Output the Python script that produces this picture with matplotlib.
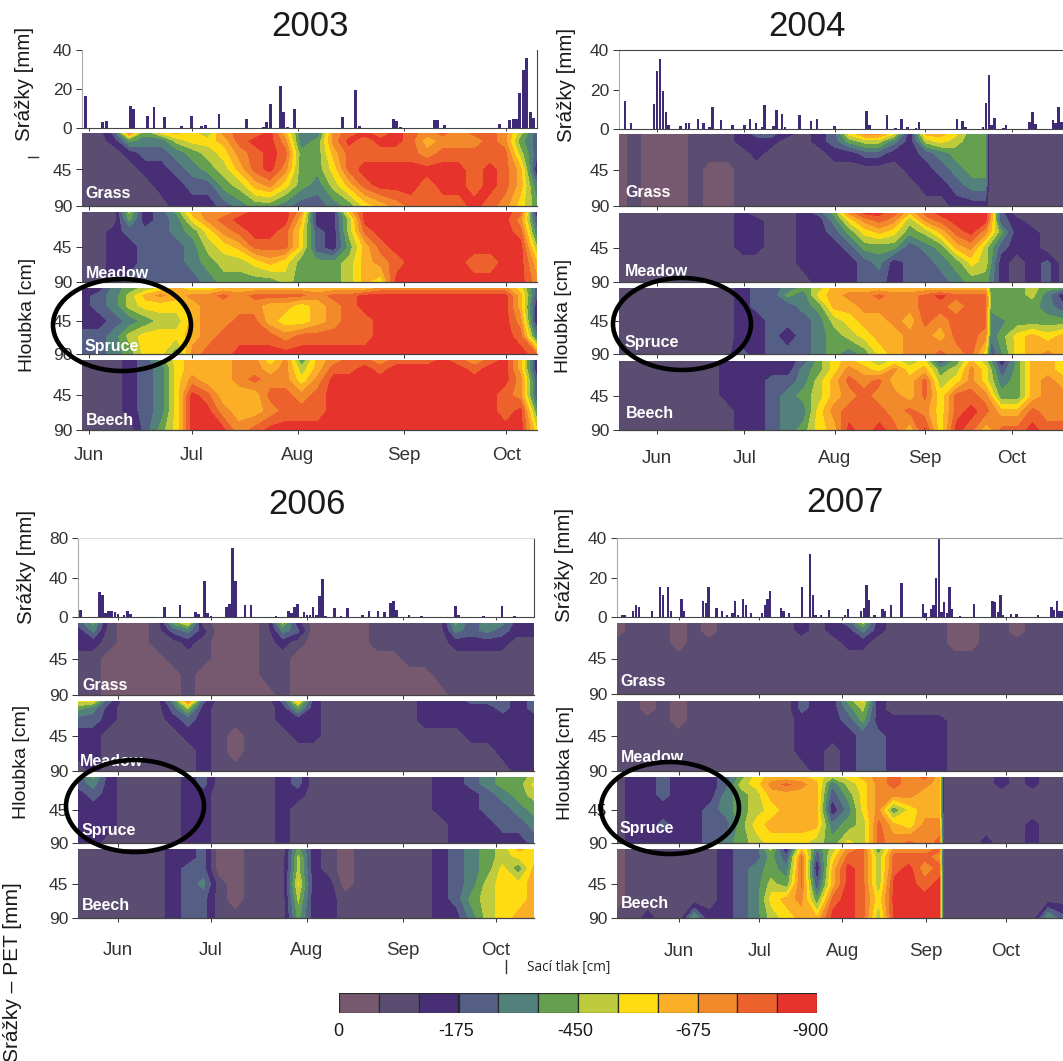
import matplotlib
matplotlib.use("Agg")
import matplotlib.pyplot as plt
import numpy as np
from matplotlib.patches import Ellipse

W, H = 1063, 1061
plt.rcParams["font.family"] = ["Liberation Sans", "DejaVu Sans"]

# hloubka [cm] radku v tabulkach
hloubky = [0, 10, 25, 45, 65, 90]
# kazdy znak = trida saciho tlaku 0-b (hex), 1 trida = 75 cm
grass_2003 = ["113a5 78769 aab84 49aba ba9a9 aa963", "11254 46778 abb94 59bab ba899 9a953", "11123 34567 9aba5 58aaa aa9aa aaa63",
              "11112 23456 8ab95 57abb bbbbb aba82", "11111 22335 68975 468ab bbabb aba84", "11111 12223 45543 34578 9aaaa ba975"]
meadow_2003 = ["11162 35899 abbb9 228bb bbbbb bbba2", "11152 3479a bbbb8 226bb bbbbb bbb93", "11233 34579 abba7 326ab bbbbb bbba4",
               "11223 33467 8aaa7 3258a bbbbb bbbb6", "11223 33456 67875 55689 abbbb aabb8", "11233 33345 55565 55687 bbbbb bbbb9"]
spruce_2003 = ["22456 78778 88888 88889 99999 99973", "23468 9899a 9aaaa 9aabb bbbbb bbb83", "23467 77899 99887 89abb bbbbb bbb82",
               "22345 66899 aa877 89aab bbbbb bbb92", "33467 7789a aaa9a aaaab bbbbb bbba4", "33457 759aa bbbbb bbbbb bbbbb bbbba"]
beech_2003 = ["11123 57888 99795 89aa9 aaaba 9ab82", "11123 47888 99896 8aaba bbbbb abb82", "11123 47988 9a997 9bbbb bbbbb bbb93",
              "11123 47ba8 88aa9 abbbb bbbbb bba93", "11123 47bb9 889aa abbbb bbbbb bbab5", "11113 57bbb 9abbb bbbbb bbbbb bbbb7"]

grass_2004 = ["01000 11123 32123 79972 88755 11111", "01000 11122 21123 56642 67655 11111", "01000 11112 11112 23322 34555 11111",
              "01000 10011 11111 11112 23455 11111", "01000 10011 11111 11111 22344 11111", "01000 10011 11111 11111 11222 11111"]
meadow_2004 = ["11111 11121 11235 9bba8 abbbb 31111", "11111 11122 11224 79a96 9abbb 32111", "11111 11122 11223 57875 68ab9 52211",
               "11111 11122 11222 35553 45896 32211", "11111 11111 11222 23423 34576 21231", "11111 11111 11122 23323 33455 21231"]
spruce_2004 = ["11111 11123 34568 88888 88888 55655", "11111 11123 35478 99a99 abaaa 55642", "11111 11123 33458 89999 aa9aa 55543",
               "11111 11122 33346 78898 a9aaa 45555", "11111 11122 32345 67889 98aa9 47878", "11111 11132 33345 45789 9a9a7 37898"]
beech_2004 = ["11111 11222 22357 87676 73586 25887", "11111 11222 22457 98797 85697 35887", "11111 11222 33468 a9a88 a6797 45898",
              "11111 11222 34568 9a998 a7aa9 55899", "11111 11122 34479 aaa9a 97aba 88a99", "11111 11122 34578 baba8 b7ba8 aabaa"]

grass_2006 = ["35100 15710 00162 00001 11115 34422", "24100 13420 00143 00001 11114 34322", "22100 11210 00121 00001 11112 22211",
              "11000 01110 00110 00000 01111 11111", "11000 00100 00110 00000 00011 11111", "11000 00100 00010 00000 00001 11111"]
meadow_2006 = ["77311 14a31 11138 21111 11222 33323", "54211 13621 11125 21111 11222 22323", "33211 12321 11122 21111 11222 22222",
               "22111 11221 01112 21111 11111 22222", "22111 11121 01111 11111 11111 11222", "12111 11121 11111 11111 11111 11122"]
spruce_2006 = ["35211 11231 11123 11111 11122 34556", "34211 11231 11123 11111 11122 34557", "23211 11221 11122 11111 11122 23456",
               "22211 11221 11121 11111 11122 23345", "22211 11221 11121 11111 11112 22334", "22111 11221 11121 11111 11112 22223"]
beech_2006 = ["11111 12230 01115 21011 11123 45687", "11111 12230 01116 21011 11123 45677", "11111 12330 01116 21011 11123 45758",
              "11111 12341 01117 22011 11123 46778", "11111 12331 01116 22111 11123 56778", "11111 12331 11115 22111 11122 46788"]

grass_2007 = ["01110 10111 11212 36211 11001 10111", "01110 10111 11212 24211 11001 10111", "11110 11111 11111 22111 11001 11111",
              "11111 11111 11111 11111 11111 11111", "11111 11111 11111 11111 11111 11111", "11111 11111 11111 11111 11111 11111"]
meadow_2007 = ["11010 11111 11322 57211 11111 11111", "11010 11111 11322 46211 11111 11111", "11110 11111 11222 35222 22111 11111",
               "11111 11111 11222 23322 22111 11111", "11111 11111 11221 23322 22111 11111", "11111 11111 11121 23322 22111 11111"]
spruce_2007 = ["12232 22357 88876 789a9 a8111 21211", "12232 22367 9a984 679a9 98111 21211", "12232 22456 88883 57999 88111 11111",
               "12222 23456 78882 47957 88111 11111", "12232 23357 88884 56a87 99111 11211", "12222 23456 77765 76a9a 9a112 11211"]
beech_2007 = ["01111 11233 62846 9a599 9a111 11111", "01111 11233 53a37 aa6aa a9111 11111", "01111 11234 54a28 ba6ab 9a111 11111",
              "01111 11234 65a38 ba6bb ab111 11111", "01111 11234 7895a ba7bb bb111 11111", "11211 52234 6788b ba6bb bb111 11153"]

# srazky: den od 1. cervna a uhrn v mm
dny_2003 = [-1, 4, 5, 12, 13, 17, 19, 22, 27, 30, 33, 34, 38, 46, 51, 52, 53, 56, 57, 58, 60, 74, 78, 79, 89, 90, 91, 101, 102, 104, 120, 123, 124, 125, 126, 127, 128, 129, 130]
mm_2003 = [16.5, 3, 3.5, 11.5, 10, 6, 11, 5.5, 1, 6, 1, 1.5, 7, 4.5, 0.5, 3, 12.5, 21.5, 8, 0.5, 9.5, 5.5, 19.5, 1, 4.5, 3.5, 0.5, 4, 4, 1.5, 2, 4, 4.5, 4.5, 18, 29.5, 36, 8, 5]
dny_2004 = [-11, -9, -1, 0, 1, 2, 3, 4, 8, 10, 11, 14, 16, 18, 19, 22, 26, 30, 32, 34, 36, 37, 40, 41, 43, 44, 49, 53, 55, 61, 72, 73, 79, 82, 84, 86, 89, 90, 103, 105, 106, 112, 113, 114, 115, 116, 119, 120, 128, 129, 130, 136, 137, 138, 139]
mm_2004 = [14, 3, 12.5, 29.5, 35.5, 19, 8.5, 2, 1.5, 3, 3, 5, 3, 1, 11, 4.5, 2, 2, 5, 3, 1, 12, 1.5, 9.5, 7.5, 1, 7, 4, 5, 1.5, 9, 2, 7, 0.5, 5, 1, 0.5, 3.5, 5, 4, 1, 1, 13, 27.5, 2, 5.5, 0.5, 2, 3.5, 8.5, 2.5, 4.5, 3, 11, 3.5]
dny_2006 = [-12, -6, -5, -4, -3, -2, -1, 0, 2, 3, 4, 15, 20, 25, 26, 28, 29, 30, 35, 36, 37, 38, 41, 43, 51, 55, 56, 57, 58, 60, 61, 62, 63, 64, 65, 66, 67, 70, 72, 74, 79, 81, 84, 86, 88, 89, 90, 94, 98, 109, 110, 118, 124, 128]
mm_2006 = [7, 25, 22, 4, 6, 6, 5, 3, 2, 6, 3, 10, 12, 5, 3, 36, 4, 1, 10, 13, 70, 36, 12, 12, 1, 6, 4, 10, 13, 5, 2, 2, 10, 2, 21, 38, 1, 9, 1, 9, 2, 6, 6, 5, 14, 16, 7, 2, 1, 11, 2, 1, 11, 1]
dny_2007 = [-23, -21, -20, -17, -16, -15, -10, -7, -6, -4, -3, 1, 2, 9, 10, 11, 14, 16, 18, 20, 21, 22, 24, 25, 27, 31, 32, 33, 34, 38, 39, 41, 46, 49, 50, 51, 53, 56, 62, 63, 68, 69, 70, 71, 73, 76, 77, 79, 83, 91, 92, 94, 95, 96, 97, 98, 99, 100, 101, 102, 105, 110, 117, 118, 119, 120, 121, 124, 126, 134, 139, 140, 141, 142, 143]
mm_2007 = [10, 1, 1, 3, 6, 5, 3, 15, 11, 15, 3, 9, 3, 8, 7, 15, 4.5, 3, 1, 2, 8, 1, 9, 6, 2, 2, 6, 9, 13, 4.5, 3, 2, 15, 32, 11, 1, 1, 3.5, 1, 4, 3, 4.5, 16, 8.5, 1, 4, 3, 6, 17, 6.5, 2, 4, 6, 20, 40, 2.5, 7.5, 2, 15, 4, 0.5, 6.5, 8, 7.5, 2.5, 11, 1, 1.5, 1.5, 1, 5, 3.5, 8, 3, 3]

mesice = ["Jun", "Jul", "Aug", "Sep", "Oct"]
mesic_dny = [0, 30, 61, 92, 122]
stanoviste = ["Grass", "Meadow", "Spruce", "Beech"]
barvy = ["#77596f", "#5a4d71", "#482f75", "#555f86", "#52807a", "#659f50", "#bdcb3c", "#fedc14",
         "#fbaf26", "#f28a2b", "#ec612c", "#e6332c"]
skala_popisky = ["0", "-175", "-450", "-675", "-900"]


def osa(fig, x0, y0, x1, y1):
    # osa zadana v pixelech obrazku
    return fig.add_axes([x0 / W, 1 - y1 / H, (x1 - x0) / W, (y1 - y0) / H])


def tabulka(radky):
    return np.array([[int(c, 16) for c in r.replace(" ", "")] for r in radky])


def srazky(fig, box, xlim, dny, mm, ymax, ramy):
    ax = osa(fig, *box)
    ax.bar(dny, mm, width=0.85, color="#3f2a78", linewidth=0)
    ax.set_xlim(*xlim)
    ax.set_ylim(0, ymax)
    ax.set_yticks([0, ymax / 2, ymax], [str(int(v)) for v in (0, ymax / 2, ymax)])
    ax.set_xticks(mesic_dny, [])
    ax.tick_params(axis="y", labelsize=12.5, length=4, width=0.7, pad=3, colors="#333333")
    ax.tick_params(axis="x", length=2, width=0.7, color="#444444")
    for s in ax.spines:
        ax.spines[s].set_linewidth(0.8)
        ax.spines[s].set_color("#444444")
    ax.spines["left"].set_color("#aaaaaa")
    for s in ("top", "right"):
        if s in ramy:
            ax.spines[s].set_color(ramy[s])
        else:
            ax.spines[s].set_visible(False)
    return ax


def kontura(fig, box, xlim, radky, popis, pozice, dolni, pad, zlom):
    ax = osa(fig, *box)
    t = tabulka(radky)
    xs = np.linspace(xlim[0], xlim[1], t.shape[1])
    # ostry prechod: sloupec posunuty tesne k sousedovi
    for sloupec, den in zlom.items():
        xs[sloupec] = den
    # tridy prevedene na tlak v cm
    tlak = -(t + 0.5) * 75
    ax.contourf(xs, hloubky, tlak, levels=np.arange(-900, 1, 75), colors=barvy[::-1])
    ax.set_xlim(*xlim)
    ax.set_ylim(90, 0)
    ax.set_yticks([45, 90], ["45", "90"])
    ax.tick_params(axis="y", labelsize=12.5, length=4, width=0.7, pad=3, colors="#333333")
    ax.set_xticks(mesic_dny, mesice if dolni else [])
    ax.tick_params(axis="x", labelsize=13.5, length=3, width=0.7, pad=pad if dolni else 2, colors="#333333")
    for s in ax.spines:
        ax.spines[s].set_visible(s == "bottom")
    ax.spines["bottom"].set_linewidth(0.9)
    ax.spines["bottom"].set_color("#444444")
    ax.text(pozice[0] / W, 1 - pozice[1] / H, popis, transform=fig.transFigure, color="white", fontsize=11.5,
            fontweight="bold", va="center", ha="left", clip_on=True)


fig = plt.figure(figsize=(W / 100, H / 100), dpi=100)

panely = [
    dict(x0=82, x1=537, xlim=(-2.05, 131), bar=(50, 128), ymax=40, dny=dny_2003, mm=mm_2003, ramy={"right": "#444444"},
         pasy=[(133, 206), (212, 282), (288, 354), (360, 430)], pad=9.5,
         data=[grass_2003, meadow_2003, spruce_2003, beech_2003],
         zlomy=[{}, {}, {}, {}],
         popisy=[(85, 194), (86, 274), (85, 346), (86, 421)]),
    dict(x0=619, x1=1063, xlim=(-13.06, 139.5), bar=(50, 129), ymax=40, dny=dny_2004, mm=mm_2004, ramy={"top": "#444444"},
         pasy=[(134, 206), (213, 282), (288, 354), (361, 430)], pad=11.5,
         data=[grass_2004, meadow_2004, spruce_2004, beech_2004],
         zlomy=[{25: 114.4}, {}, {25: 115}, {}],
         popisy=[(625, 192), (625, 272), (625, 342), (626, 413)]),
    dict(x0=78, x1=534, xlim=(-12.9, 134.3), bar=(538, 617), ymax=80, dny=dny_2006, mm=mm_2006,
         ramy={"right": "#444444", "top": "#dddddd"},
         pasy=[(623, 695), (701, 771), (777, 843), (849, 918)], pad=14.5,
         data=[grass_2006, meadow_2006, spruce_2006, beech_2006],
         zlomy=[{}, {}, {}, {}],
         popisy=[(82, 685), (80, 762), (82, 830), (82, 905)]),
    dict(x0=617, x1=1063, xlim=(-23.1, 143.3), bar=(538, 617), ymax=40, dny=dny_2007, mm=mm_2007, ramy={"top": "#999999"},
         pasy=[(623, 694), (701, 771), (777, 843), (849, 918)], pad=15,
         data=[grass_2007, meadow_2007, spruce_2007, beech_2007],
         zlomy=[{}, {}, {22: 99.3}, {22: 99.3}],
         popisy=[(620, 682), (621, 758), (620, 828), (621, 903)]),
]

for p in panely:
    srazky(fig, (p["x0"], p["bar"][0], p["x1"], p["bar"][1]), p["xlim"], p["dny"], p["mm"], p["ymax"], p["ramy"])
    for i in range(4):
        kontura(fig, (p["x0"], p["pasy"][i][0], p["x1"], p["pasy"][i][1]), p["xlim"], p["data"][i],
                stanoviste[i], p["popisy"][i], i == 3, p["pad"], p["zlomy"][i])

# barevna skala
cax = osa(fig, 339, 993, 817, 1013)
cax.bar(range(12), np.ones(12), width=1, align="edge", color=barvy, edgecolor="#2a2a2a", linewidth=0.9)
cax.set_xlim(0, 12)
cax.set_ylim(0, 1)
cax.axis("off")

# horni vrstva v pixelech: popisky a elipsy
top = fig.add_axes([0, 0, 1, 1], zorder=10)
top.set_xlim(0, W)
top.set_ylim(H, 0)
top.axis("off")

for rok, x, y in [("2003", 310, 27), ("2004", 807, 27), ("2006", 307, 505), ("2007", 845, 503)]:
    top.text(x, y, rok, fontsize=25, ha="center", va="center", color="#1a1a1a")
for text, x, y in [("Srážky [mm]", 25, 84), ("Srážky [mm]", 566, 85), ("Srážky [mm]", 27, 567), ("Srážky [mm]", 565, 565)]:
    top.text(x, y, text, fontsize=14.8, rotation=90, ha="center", va="center", color="#1a1a1a")
for text, x, y in [("Hloubka [cm]", 27, 315), ("Hloubka [cm]", 563, 316), ("Hloubka [cm]", 22, 762), ("Hloubka [cm]", 565, 763)]:
    top.text(x, y, text, fontsize=14, rotation=90, ha="center", va="center", color="#1a1a1a")
top.text(13, 972, "Srážky – PET [mm]", fontsize=15, rotation=90, ha="center", va="center", color="#1a1a1a")
top.text(527, 968, "Sací tlak [cm]", family="Open Sans", fontsize=9.8, ha="left", va="center", color="#222222")
top.plot([506, 506], [960, 973], color="#333333", lw=1)
top.plot([28, 38], [157, 157], color="#333333", lw=1)

for lab, x in zip(skala_popisky, [338, 456, 575, 693, 810]):
    top.text(x, 1031, lab, fontsize=13, ha="center", va="center", color="#1a1a1a")

for cx, cy in [(122, 325), (682, 324), (135, 806), (670, 808)]:
    top.add_patch(Ellipse((cx, cy), 138, 92, fc="none", ec="black", lw=3.3))

fig.savefig("out.png", dpi=100)
